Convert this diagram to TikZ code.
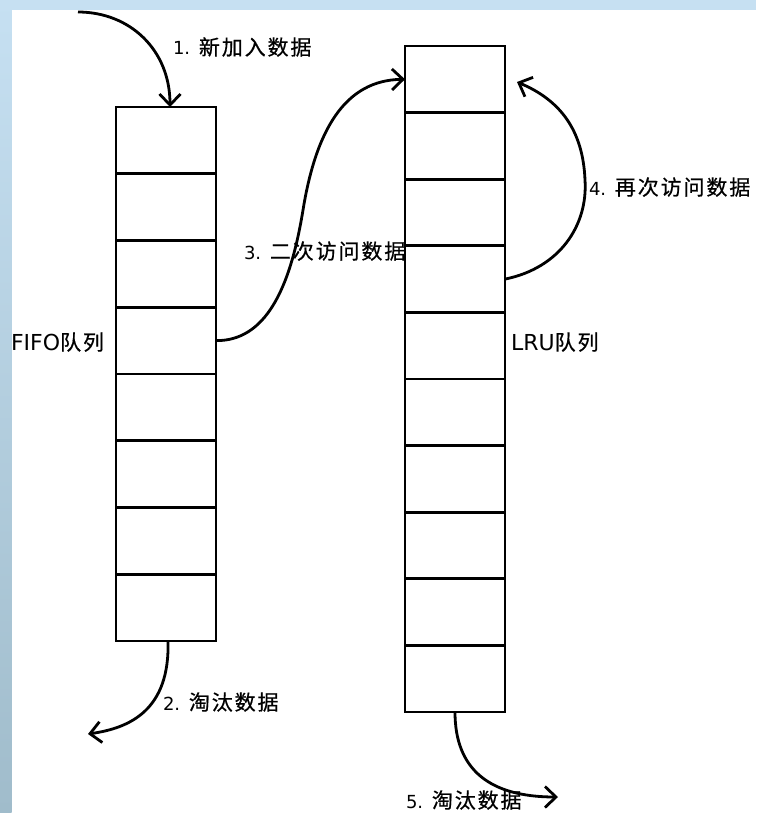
\documentclass[tikz,border=0pt]{standalone}
\usepackage{fontspec}
\setmainfont{DejaVu Sans}
\newfontfamily\cjk[LetterSpace=9,FakeBold=0.6]{Noto Sans CJK SC}
\usetikzlibrary{arrows.meta}
\definecolor{bandtop}{RGB}{198,224,242}
\definecolor{bandbot}{RGB}{160,188,203}
\newcommand{\steplbl}[2]{{\fontsize{18}{20}\selectfont #1\kern3pt}{\cjk\fontsize{21}{23}\selectfont #2}}
\newcommand{\queuelbl}[2]{{\fontsize{22}{24}\selectfont #1}{\cjk\fontsize{21}{23}\selectfont #2}}
\tikzset{
  cell/.style={draw=black, line width=2.8pt, minimum width=100pt, minimum height=66.7pt, inner sep=0pt, outer sep=0pt},
  lcell/.style={cell, minimum height=66.6pt},
  arr/.style={line width=2.8pt, -{Straight Barb[length=11pt,width=21pt]}},
  lbl/.style={anchor=base west, inner sep=0pt, outer sep=0pt, text=black}
}
\begin{document}
\begin{tikzpicture}[x=1pt,y=-1pt]
\useasboundingbox (0,0) rectangle (756,813);
\fill[white] (0,0) rectangle (756,813);
\fill[bandtop] (0,0) rectangle (756,10);
\shade[top color=bandtop, bottom color=bandbot] (0,0) rectangle (11.5,813);

% FIFO queue
\foreach \i in {1,...,8} {
  \node[cell] (f\i) at (166, {107+66.75*(\i-0.5)}) {};
}
% LRU queue
\foreach \i in {1,...,10} {
  \node[lcell] (l\i) at (455, {46+66.6*(\i-0.5)}) {};
}

\coordinate (s1) at (78,12);
\coordinate (e2) at (88,734);
\coordinate (e4) at (517,82);
\coordinate (e5) at (558,797);

% 1. new data
\draw[arr] (s1) .. controls (130,12) and (170,50) .. ([xshift=4pt]f1.north);
% 2. evict from FIFO
\draw[arr] ([xshift=2pt]f8.south) .. controls (170,710) and (130,728) .. (e2);
% 3. second access
\draw[arr] (f4.east) .. controls (265,341) and (290,290) .. (303,210)
                     .. controls (316,130) and (345,80) .. (l1.west);
% 4. access again
\draw[arr] (l4.east) .. controls (560,268) and (588,225) .. (585,180)
                     .. controls (583,130) and (560,100) .. (e4);
% 5. evict from LRU
\draw[arr] (l10.south) .. controls (455,770) and (490,797) .. (e5);

% labels
\node[lbl] (t1) at (173,55) {\steplbl{1.~}{新加入数据}};
\node[lbl] (t2) at (163,710) {\steplbl{2.~}{淘汰数据}};
\node[lbl] (t3) at (244,259) {\steplbl{3.~}{二次访问数据}};
\node[lbl] (t4) at (589,195) {\steplbl{4.~}{再次访问数据}};
\node[lbl] (t5) at (406,808) {\steplbl{5.~}{淘汰数据}};
\node[lbl] (qf) at (11,350) {\queuelbl{FIFO}{队列}};
\node[lbl] (ql) at (511,350) {\queuelbl{LRU}{队列}};
\end{tikzpicture}
\end{document}
